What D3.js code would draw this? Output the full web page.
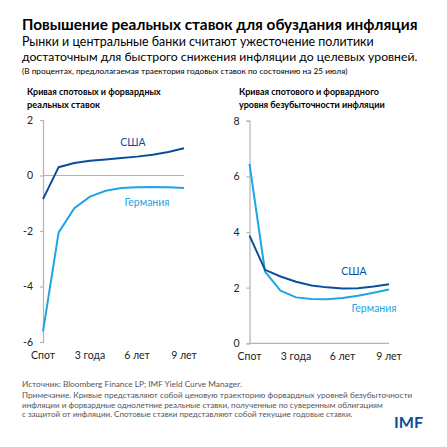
<!DOCTYPE html>
<html>
<head>
<meta charset="utf-8">
<script src="https://cdnjs.cloudflare.com/ajax/libs/d3/7.8.5/d3.min.js"></script>
<style>
  body { margin: 0; background: #fff; }
  text { font-family: Lato, "Open Sans", sans-serif; }
</style>
</head>
<body>
<svg id="chart" width="447" height="447"></svg>
<script>
// data
const periods = ['Спот', '1', '2', '3 года', '4', '5', '6 лет', '7', '8', '9 лет'];
const tickPeriods = ['Спот', '3 года', '6 лет', '9 лет'];

// left panel: spot and forward real rates
const realUS = [-0.85, 0.30, 0.45, 0.53, 0.58, 0.63, 0.68, 0.75, 0.85, 0.98];
const realDE = [-5.62, -2.05, -1.18, -0.76, -0.55, -0.45, -0.42, -0.41, -0.42, -0.45];
const realTicks = [2, 0, -2, -4, -6];

// right panel: spot and forward breakeven inflation
const beUS = [3.87, 2.64, 2.40, 2.21, 2.08, 2.01, 1.97, 1.98, 2.04, 2.12];
const beDE = [6.45, 2.58, 1.89, 1.65, 1.59, 1.58, 1.63, 1.71, 1.82, 1.93];
const beTicks = [0, 2, 4, 6, 8];

const colUS = '#0b4f9c';
const colDE = '#1ea5e6';
const axisCol = '#b3b3b3';

const svg = d3.select('#chart');

// put text in and shrink/grow the font so it spans the width seen in the picture
function fitText(x, y, str, width, size, weight, fill) {
  let t = svg.append('text')
    .attr('x', x).attr('y', y)
    .attr('font-size', size)
    .attr('font-weight', weight)
    .attr('fill', fill)
    .text(str);
  let w = t.node().getComputedTextLength();
  t.attr('font-size', size * width / w);
  return t;
}

// header
fitText(22, 30, 'Повышение реальных ставок для обуздания инфляция', 396, 15, 'bold', '#000');
fitText(22, 46, 'Рынки и центральные банки считают ужесточение политики', 352, 14, 'normal', '#000');
fitText(22, 61, 'достаточным для быстрого снижения инфляции до целевых уровней.', 396, 14, 'normal', '#000');
fitText(22, 74, '(В процентах, предлолагаемая траектория годовых ставок по состоянию на 25 июля)', 326, 9, 'normal', '#000');

function panel(opt) {
  let x = d3.scalePoint().domain(periods).range([opt.x0, opt.x1]);
  let y = d3.scaleLinear().domain(opt.domain).range([opt.yBottom, opt.yTop]);

  fitText(opt.tx, 95, opt.title[0], opt.titleW[0], 10, 'bold', '#000');
  fitText(opt.tx, 108, opt.title[1], opt.titleW[1], 10, 'bold', '#000');

  // y axis
  let ax = svg.append('g')
    .attr('transform', `translate(${opt.x0},0)`)
    .call(d3.axisLeft(y).tickValues(opt.ticks).tickSize(3).tickPadding(7).tickFormat(d3.format('d')));
  ax.select('.domain').attr('stroke', axisCol).attr('stroke-width', 1.2);
  ax.selectAll('.tick line').attr('stroke', axisCol).attr('stroke-width', 1.2);
  ax.selectAll('.tick text')
    .attr('font-size', 10.5).attr('fill', '#222')
    .attr('font-family', 'Lato, "Open Sans", sans-serif')
    .text(d => d < 0 ? '-' + Math.abs(d) : d);

  // horizontal line at zero
  svg.append('line')
    .attr('x1', opt.x0).attr('x2', opt.x1)
    .attr('y1', y(0)).attr('y2', y(0))
    .attr('stroke', axisCol).attr('stroke-width', 1.2);

  // x labels
  svg.selectAll(null)
    .data(tickPeriods)
    .enter().append('text')
    .attr('x', d => x(d))
    .attr('y', opt.yBottom + 17)
    .attr('text-anchor', 'middle')
    .attr('font-size', 10.5)
    .attr('fill', '#222')
    .text(d => d);

  let line = d3.line()
    .x((d, i) => x(periods[i]))
    .y(d => y(d));

  svg.append('path').datum(opt.de)
    .attr('d', line).attr('fill', 'none')
    .attr('stroke', colDE).attr('stroke-width', 2);
  svg.append('path').datum(opt.us)
    .attr('d', line).attr('fill', 'none')
    .attr('stroke', colUS).attr('stroke-width', 2);

  svg.append('text')
    .attr('x', opt.usLab[0]).attr('y', opt.usLab[1])
    .attr('text-anchor', 'middle').attr('font-size', 10.5)
    .attr('fill', colUS).text('США');
  svg.append('text')
    .attr('x', opt.deLab[0]).attr('y', opt.deLab[1])
    .attr('text-anchor', 'middle').attr('font-size', 10.5)
    .attr('fill', colDE).text('Германия');
}

panel({
  x0: 43, x1: 184, yTop: 120, yBottom: 342, domain: [-6, 2],
  ticks: realTicks, us: realUS, de: realDE,
  tx: 27, title: ['Кривая спотовых и форвардных', 'реальных ставок'], titleW: [134, 73],
  usLab: [133, 146], deLab: [147, 206]
});

panel({
  x0: 249.5, x1: 389, yTop: 120.7, yBottom: 343.3, domain: [0, 8],
  ticks: beTicks, us: beUS, de: beDE,
  tx: 239, title: ['Кривая спотового и форвардного', 'уровня безубыточности инфляции'], titleW: [140, 146],
  usLab: [354, 275], deLab: [374, 312]
});

// footer
const noteCol = '#555';
fitText(22, 387, 'Источник: Bloomberg Finance LP; IMF Yield Curve Manager.', 220, 8.5, 'normal', noteCol);
fitText(22, 398, 'Примечание. Кривые представляют собой ценовую траекторию форвардных уровней безубыточности', 391, 8.5, 'normal', noteCol);
fitText(22, 407.5, 'инфляции и форвардные однолетние реальные ставки, полученные по суверенным облигациям', 361, 8.5, 'normal', noteCol);
fitText(22, 417, 'с защитой от инфляции. Спотовые ставки представляют собой текущие годовые ставки.', 331, 8.5, 'normal', noteCol);

fitText(394, 428, 'IMF', 29, 15, 'bold', '#0b4f9c');
</script>
</body>
</html>
